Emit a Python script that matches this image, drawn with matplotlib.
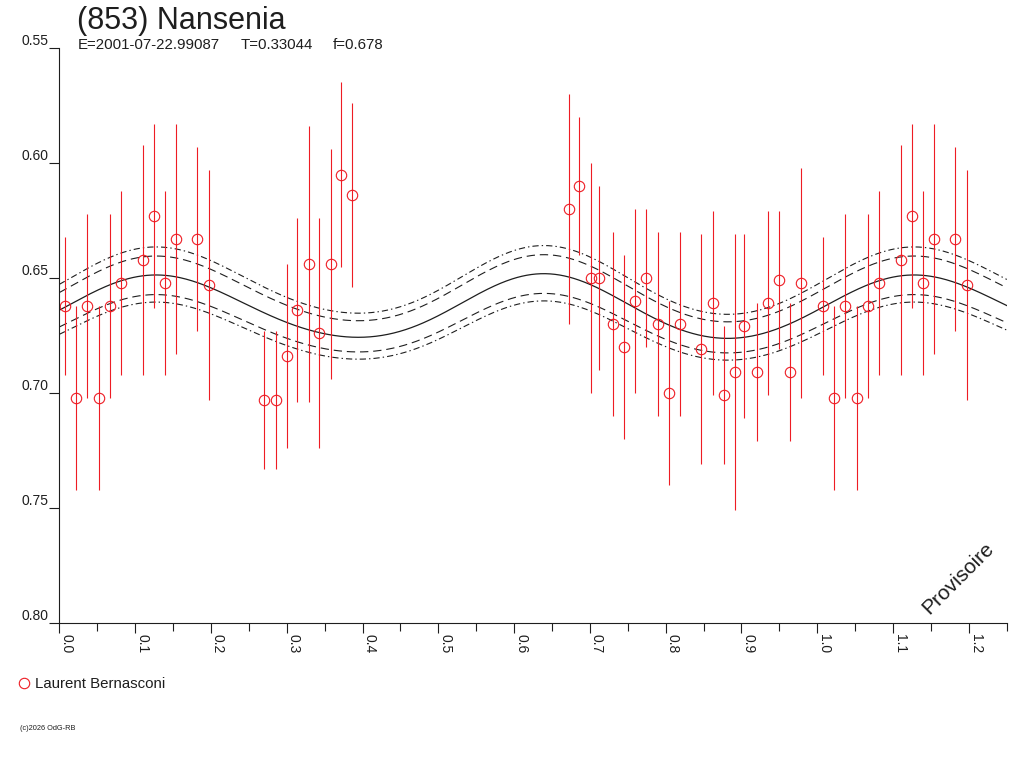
#!/usr/bin/env python

import numpy as np
import matplotlib
matplotlib.use('Agg')
import matplotlib.pyplot as plt
from matplotlib.lines import Line2D

plt.rcParams['font.family'] = ['Liberation Sans', 'DejaVu Sans']
plt.rcParams['lines.scale_dashes'] = False

TITLE = "(853) Nansenia"
SUBTITLE = ["E=2001-07-22.99087", "T=0.33044", "f=0.678"]
OBSERVER = "Laurent Bernasconi"
COPYRIGHT = "(c)2026 OdG-RB"
STAMP = "Provisoire"

# measured points (phase, reduced magnitude, error)
phase = [0.008, 0.022, 0.037, 0.052, 0.067, 0.081, 0.110, 0.125, 0.139, 0.154, 0.182, 0.197,
         0.270, 0.286, 0.300, 0.314, 0.329, 0.343, 0.358, 0.372, 0.386,
         0.672, 0.686, 0.701, 0.712, 0.731, 0.745, 0.760, 0.774, 0.790, 0.804, 0.819, 0.847,
         0.862, 0.877, 0.891, 0.903, 0.921, 0.935, 0.950, 0.964, 0.979]
mag = [0.662, 0.702, 0.662, 0.702, 0.662, 0.652, 0.642, 0.623, 0.652, 0.633, 0.633, 0.653,
       0.703, 0.703, 0.684, 0.664, 0.644, 0.674, 0.644, 0.605, 0.614,
       0.620, 0.610, 0.650, 0.650, 0.670, 0.680, 0.660, 0.650, 0.670, 0.700, 0.670, 0.681,
       0.661, 0.701, 0.691, 0.671, 0.691, 0.661, 0.651, 0.691, 0.652]
err = [0.030, 0.040, 0.040, 0.040, 0.040, 0.040, 0.050, 0.040, 0.040, 0.050, 0.040, 0.050,
       0.030, 0.030, 0.040, 0.040, 0.060, 0.050, 0.050, 0.040, 0.040,
       0.050, 0.030, 0.050, 0.040, 0.040, 0.040, 0.040, 0.030, 0.040, 0.040, 0.040, 0.050,
       0.040, 0.030, 0.060, 0.040, 0.030, 0.040, 0.030, 0.030, 0.050]

# fourier fit of the lightcurve (mean, cos and sin terms for harmonics 1..4)
fit_mean = 0.6628
fit_cos = [-0.00042, 0.00178, -0.00078, 0.00061]
fit_sin = [0.00010, -0.01365, -0.00025, 0.0]

# uncertainty envelopes: offset from mean and amplitude scale
env_shift = [-0.0113, -0.0077, 0.0074, 0.0106]
env_scale = [1.063, 1.038, 0.920, 0.916]
env_style = ['dashdot', 'dashed', 'dashed', 'dashdot']

yticks = [0.55, 0.60, 0.65, 0.70, 0.75, 0.80]
xmajor = [0.0, 0.1, 0.2, 0.3, 0.4, 0.5, 0.6, 0.7, 0.8, 0.9, 1.0, 1.1, 1.2]

RED = '#ee1c24'
INK = '#1e1e1e'


def fourier(ph):
    m = np.full_like(ph, fit_mean)
    for k in range(len(fit_cos)):
        m += fit_cos[k] * np.cos(2 * np.pi * (k + 1) * ph)
        m += fit_sin[k] * np.sin(2 * np.pi * (k + 1) * ph)
    return m


if __name__ == "__main__":

    fig = plt.figure(figsize=(10.24, 7.68), dpi=100)
    ax = fig.add_axes([59.3 / 1024, 1 - 623 / 768, (1006.8 - 59.3) / 1024, (623 - 48) / 768])

    # fit curve and envelopes
    grid = np.linspace(0, 1.25, 800)
    fit = fourier(grid)
    dashes = {'dashed': (0, (6, 3.5)), 'dashdot': (0, (4.5, 2.2, 1, 2.2))}
    for s, k, st in zip(env_shift, env_scale, env_style):
        ax.plot(grid, fit_mean + s + k * (fit - fit_mean), color=INK, lw=0.8,
                linestyle=dashes[st])
    ax.plot(grid, fit, color=INK, lw=0.9)

    # points, with phases < 0.25 repeated after 1.0
    ph = np.array(phase)
    mg = np.array(mag)
    er = np.array(err)
    rep = ph < 0.25
    ph_all = np.concatenate([ph, ph[rep] + 1.0])
    mg_all = np.concatenate([mg, mg[rep]])
    er_all = np.concatenate([er, er[rep]])

    ax.errorbar(ph_all, mg_all, yerr=er_all, fmt='none', ecolor=RED, elinewidth=0.8, capsize=0)
    ax.plot(ph_all, mg_all, 'o', mfc='none', mec=RED, ms=7.5, mew=0.8)

    ax.set_xlim(0, 1.25)
    ax.set_ylim(0.80, 0.55)

    # axes look
    for side in ['top', 'right']:
        ax.spines[side].set_visible(False)
    for side in ['left', 'bottom']:
        ax.spines[side].set_linewidth(0.8)
        ax.spines[side].set_color(INK)

    ax.set_yticks(yticks)
    ax.set_yticklabels(["%.2f" % v for v in yticks])
    for lbl in ax.get_yticklabels():
        lbl.set_va('bottom')
    ax.tick_params(axis='y', direction='out', length=7.2, width=0.8, pad=0.5,
                   labelsize=10, colors=INK)

    ax.set_xticks(xmajor)
    ax.set_xticklabels(["%.1f" % v for v in xmajor], rotation=-90, ha='left', va='top')
    ax.set_xticks(np.arange(0.05, 1.26, 0.1), minor=True)
    ax.tick_params(axis='x', which='major', direction='out', length=7.2, width=0.8, pad=0.5,
                   labelsize=10, colors=INK)
    ax.tick_params(axis='x', which='minor', direction='out', length=5.8, width=0.8, colors=INK)

    # texts
    fig.text(77 / 1024, 1 - 29 / 768, TITLE, fontsize=22, color=INK, va='baseline')
    for part, xpix in zip(SUBTITLE, [78, 241, 333]):
        fig.text(xpix / 1024, 1 - 49 / 768, part, fontsize=10.8, color=INK, va='baseline')
    ax.text(958 / 1024, 1 - 578 / 768, STAMP, transform=fig.transFigure, fontsize=15,
            rotation=45, ha='center', va='center', color=INK)

    fig.add_artist(Line2D([24 / 1024], [1 - 683 / 768], marker='o', mfc='none', mec=RED,
                          ms=7.5, mew=0.8, transform=fig.transFigure))
    fig.text(35 / 1024, 1 - 688 / 768, OBSERVER, fontsize=10.8, color=INK, va='baseline')
    fig.text(20 / 1024, 1 - 730 / 768, COPYRIGHT, fontsize=5.3, color=INK, va='baseline')

    plt.savefig('out.png', dpi=100)
